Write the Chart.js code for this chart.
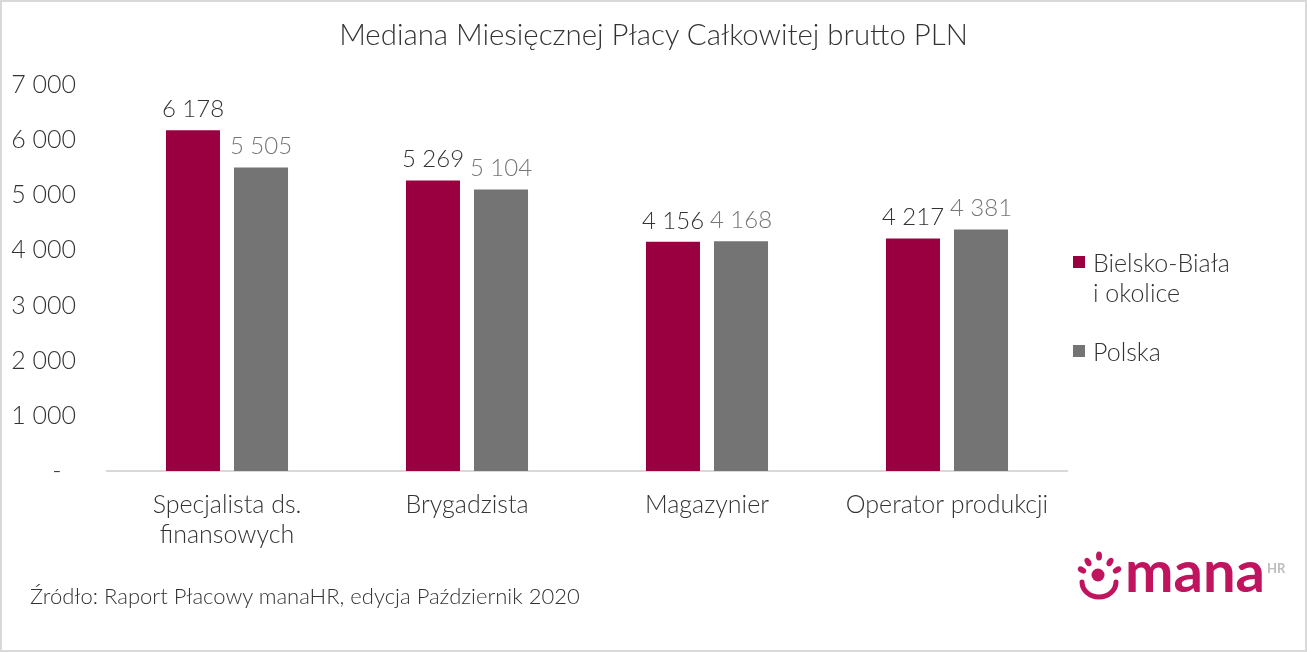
<!DOCTYPE html>
<html lang="pl">
<head>
<meta charset="utf-8">
<title>Mediana Miesięcznej Płacy Całkowitej brutto PLN</title>
<script src="https://cdn.jsdelivr.net/npm/chart.js@4.4.1/dist/chart.umd.min.js"></script>
<style>
  html, body { margin: 0; padding: 0; background: #fff; }
  #wrap { position: relative; width: 1307px; height: 652px; overflow: hidden; font-family: Lato, "Noto Sans", sans-serif; }
  #wrap canvas { position: absolute; left: 0; top: 0; }
  #frame { position: absolute; left: 0; top: 0; width: 1307px; height: 652px; box-sizing: border-box; border: 2px solid #d9d9d9; pointer-events: none; }
  #title { position: absolute; left: 0; top: 16px; width: 1307px; text-align: center; font-size: 29.4px; font-weight: 300; color: #333; }
  .legend { position: absolute; left: 1073px; font-size: 25px; font-weight: 300; color: #333; line-height: 30px; }
  .legend i { position: absolute; left: 0; top: 9px; width: 12px; height: 12px; }
  .legend span { display: block; padding-left: 20px; }
  #source { position: absolute; left: 30px; top: 582px; font-size: 22px; font-weight: 300; color: #333; }
  #logo { position: absolute; left: 1074px; top: 546px; }
</style>
</head>
<body>
<div id="wrap">
  <canvas id="chart" width="1307" height="652"></canvas>
  <div id="title">Mediana Miesięcznej Płacy Całkowitej brutto PLN</div>
  <div class="legend" style="top:247px"><i style="background:#9a003f"></i><span>Bielsko-Biała<br>i okolice</span></div>
  <div class="legend" style="top:336px"><i style="background:#747474"></i><span>Polska</span></div>
  <div id="source">Źródło: Raport Płacowy manaHR, edycja Październik 2020</div>
  <svg id="logo" width="222" height="56" viewBox="0 0 222 56">
    <g fill="#c0145e">
      <circle cx="24" cy="29" r="6.5"/>
      <ellipse cx="8" cy="24" rx="3" ry="4.5" transform="rotate(-60 8 24)"/>
      <ellipse cx="14" cy="16" rx="3" ry="4.5" transform="rotate(-30 14 16)"/>
      <ellipse cx="25" cy="10" rx="3" ry="4.5"/>
      <ellipse cx="36" cy="16" rx="3" ry="4.5" transform="rotate(30 36 16)"/>
      <ellipse cx="43" cy="24" rx="3" ry="4.5" transform="rotate(60 43 24)"/>
    </g>
    <path d="M8 36 A17 15 0 0 0 42 36" fill="none" stroke="#c0145e" stroke-width="5" stroke-linecap="round"/>
    <text x="51" y="46" font-family="Lato, 'Noto Sans', sans-serif" font-weight="700" font-size="57" fill="#c0145e" textLength="140" lengthAdjust="spacingAndGlyphs">mana</text>
    <text x="193" y="27" font-family="Lato, 'Noto Sans', sans-serif" font-weight="700" font-size="13" fill="#bdbdbd">HR</text>
  </svg>
  <div id="frame"></div>
</div>
<script>
const categories = [['Specjalista ds.', 'finansowych'], 'Brygadzista', 'Magazynier', 'Operator produkcji'];
const seriesNames = ['Bielsko-Biała i okolice', 'Polska'];
const bielskoValues = [6178, 5269, 4156, 4217];
const polskaValues = [5505, 5104, 4168, 4381];
const yTicks = [0, 1000, 2000, 3000, 4000, 5000, 6000, 7000];

const RED = '#9a003f';
const GREY = '#747474';
const FONT = 'Lato, "Noto Sans", sans-serif';

function fmt(v) {
    return String(v).replace(/\B(?=(\d{3})+(?!\d))/g, ' ');
}

// value labels above the bars
const valueLabels = {
    id: 'valueLabels',
    afterDatasetsDraw(chart) {
        const ctx = chart.ctx;
        ctx.save();
        ctx.font = '300 24px ' + FONT;
        ctx.textAlign = 'center';
        ctx.textBaseline = 'bottom';
        chart.data.datasets.forEach((ds, i) => {
            ctx.fillStyle = i === 0 ? '#333333' : '#767676';
            chart.getDatasetMeta(i).data.forEach((bar, j) => {
                ctx.fillText(fmt(ds.data[j]), bar.x, bar.y - 9);
            });
        });
        ctx.restore();
    }
};

new Chart(document.getElementById('chart'), {
    type: 'bar',
    data: {
        labels: categories,
        datasets: [{
            label: seriesNames[0],
            data: bielskoValues,
            backgroundColor: RED,
            categoryPercentage: 0.567,
            barPercentage: 0.794,
        }, {
            label: seriesNames[1],
            data: polskaValues,
            backgroundColor: GREY,
            categoryPercentage: 0.567,
            barPercentage: 0.794,
        }],
    },
    options: {
        responsive: false,
        animation: false,
        devicePixelRatio: 1,
        layout: {
            padding: { left: 0, right: 240, top: 85, bottom: 0 },
        },
        plugins: {
            legend: { display: false },
            tooltip: { enabled: false },
        },
        scales: {
            x: {
                grid: { display: false, drawTicks: false },
                border: { display: true, color: '#d9d9d9', width: 2 },
                ticks: {
                    color: '#333',
                    font: { family: FONT, size: 25, weight: 300, lineHeight: 1.2 },
                    padding: 19,
                    maxRotation: 0,
                    autoSkip: false,
                },
                afterFit(scale) { scale.height = 181; },
            },
            y: {
                min: yTicks[0],
                max: yTicks[yTicks.length - 1],
                grid: { display: false, drawTicks: false },
                border: { display: false },
                afterBuildTicks(scale) {
                    scale.ticks = yTicks.map(v => ({ value: v }));
                },
                ticks: {
                    color: '#333',
                    font: { family: FONT, size: 25, weight: 300 },
                    padding: 31,
                    callback: v => (v === 0 ? '-\u2007' : fmt(v)),
                },
                afterFit(scale) { scale.width = 107; },
            },
        },
    },
    plugins: [valueLabels],
});
</script>
</body>
</html>
